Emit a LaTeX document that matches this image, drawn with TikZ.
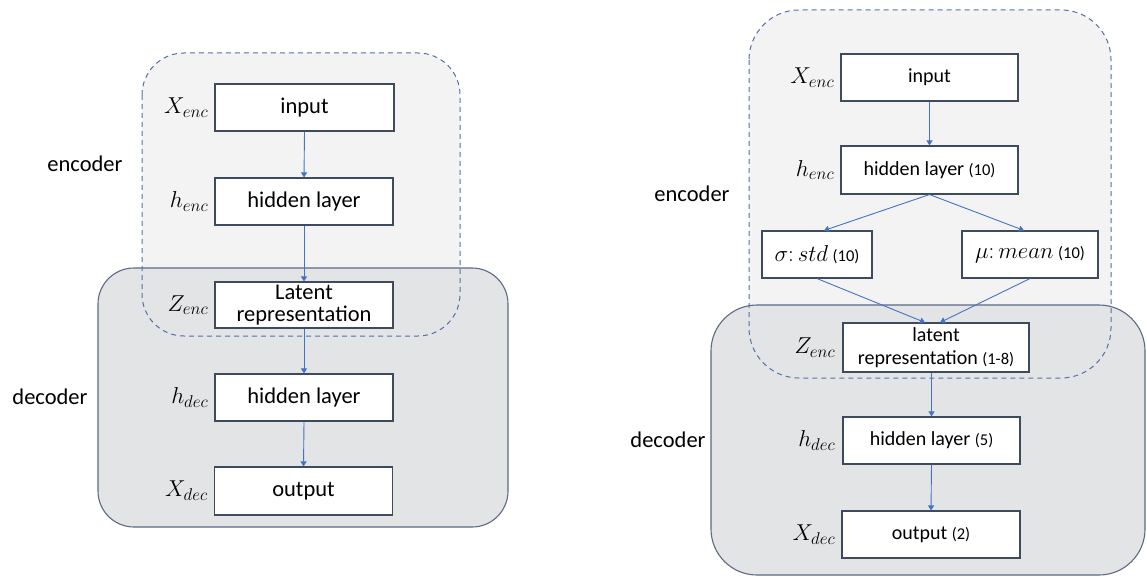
\documentclass[tikz,border=0pt]{standalone}
\usepackage{fix-cm}
\DeclareMathSizes{23}{23}{17}{13}
\usepackage{fontspec}
\setmainfont{Carlito}
\usetikzlibrary{arrows.meta,calc}
\definecolor{encfill}{RGB}{243,243,244}
\definecolor{decfill}{RGB}{227,228,230}
\definecolor{encline}{RGB}{85,112,168}
\definecolor{decline}{RGB}{92,106,132}
\definecolor{boxline}{RGB}{62,74,94}
\definecolor{arrowblue}{RGB}{68,114,196}
\tikzset{
  layerbox/.style={draw=boxline, line width=1.1pt, fill=white, inner sep=0pt, align=center, text=black},
  bigtxt/.style={font=\fontsize{22.5}{24}\selectfont},
  smalltxt/.style={font=\fontsize{20}{22}\selectfont},
  varlabel/.style={anchor=east, inner sep=0pt, font=\fontsize{23}{25}\selectfont},
  sidelabel/.style={inner sep=0pt, font=\fontsize{22.5}{24}\selectfont},
  flow/.style={draw=arrowblue, line width=0.9pt, -{Triangle[length=5pt,width=6pt]}},
  encbg/.style={fill=encfill},
  decbg/.style={fill=decfill, draw=decline, line width=1.1pt},
  encoutline/.style={draw=encline, line width=1pt, dash pattern=on 5pt off 4pt}
}
\newcommand{\sm}[1]{{\fontsize{16.5}{18}\selectfont #1}}
\newcommand{\mth}[1]{{\fontsize{23}{25}\selectfont$#1$}}
\begin{document}
\begin{tikzpicture}[x=1pt,y=-1pt]
\useasboundingbox (0,0) rectangle (1147,577);
% ---------- backgrounds left ----------
\path[encbg, rounded corners=42pt] (142,53) rectangle (460,336);
\path[decbg, rounded corners=36pt] (98,268) rectangle (508,527);
\path[encoutline, rounded corners=42pt] (142,53) rectangle (460,336);
% ---------- backgrounds right ----------
\path[encbg, rounded corners=50pt] (749,10) rectangle (1111,378);
\path[decbg, rounded corners=46pt] (711,305) rectangle (1145,575);
\path[encoutline, rounded corners=50pt] (749,10) rectangle (1111,378);

% ---------- left diagram ----------
\node[layerbox, bigtxt, minimum width=179pt, minimum height=47pt] (inL) at (304.5,107.5) {input};
\node[layerbox, bigtxt, minimum width=178pt, minimum height=47pt] (hidL) at (304,201.5) {hidden layer};
\node[layerbox, font=\fontsize{22.5}{22.5}\selectfont, minimum width=178pt, minimum height=46pt] (latL) at (304,305) {Latent\\[-1pt]representation};
\node[layerbox, bigtxt, minimum width=178pt, minimum height=47pt] (hdecL) at (304,397.5) {hidden layer};
\node[layerbox, bigtxt, minimum width=178pt, minimum height=48pt] (outL) at (303.5,491) {output};

\node[varlabel] (xencL) at ([xshift=-6pt]inL.west) {$X_{enc}$};
\node[varlabel] (hencL) at ([xshift=-6pt]hidL.west) {$h_{enc}$};
\node[varlabel] (zencL) at ([xshift=-6pt]latL.west) {$Z_{enc}$};
\node[varlabel] (hdecLl) at ([xshift=-6pt]hdecL.west) {$h_{dec}$};
\node[varlabel] (xdecL) at ([xshift=-6pt]outL.west) {$X_{dec}$};

\node[sidelabel] (encL) at (85,164) {encoder};
\node[sidelabel] (decL) at (50,397) {decoder};

\draw[flow] (inL.south) -- (hidL.north);
\draw[flow] (hidL.south) -- (latL.north);
\draw[flow] (latL.south) -- (hdecL.north);
\draw[flow] (hdecL.south) -- (outL.north);

% ---------- right diagram ----------
\node[layerbox, smalltxt, minimum width=177pt, minimum height=47pt] (inR) at (929.5,77.5) {input};
\node[layerbox, smalltxt, minimum width=177pt, minimum height=48pt] (hidR) at (929.5,170) {hidden layer \sm{(10)}};
\node[layerbox, smalltxt, minimum width=110pt, minimum height=47pt] (sig) at (817,254.5) {\mth{\sigma{:}\,std} \sm{(10)}};
\node[layerbox, smalltxt, minimum width=136pt, minimum height=47pt] (mu) at (1030,254.5) {\mth{\mu{:}\,mean} \sm{(10)}};
\node[layerbox, font=\fontsize{20}{23}\selectfont, minimum width=186pt, minimum height=49pt] (latR) at (936,347.5) {latent\\representation \sm{(1-8)}};
\node[layerbox, smalltxt, minimum width=177pt, minimum height=47pt] (hdecR) at (931.5,440.5) {hidden layer \sm{(5)}};
\node[layerbox, smalltxt, minimum width=178pt, minimum height=47pt] (outR) at (931,534.5) {output \sm{(2)}};

\node[varlabel] (xencR) at ([xshift=-6pt]inR.west) {$X_{enc}$};
\node[varlabel] (hencR) at ([xshift=-6pt]hidR.west) {$h_{enc}$};
\node[varlabel] (zencR) at ([xshift=-7pt]latR.west) {$Z_{enc}$};
\node[varlabel] (hdecRl) at ([xshift=-7pt]hdecR.west) {$h_{dec}$};
\node[varlabel] (xdecR) at ([xshift=-6pt]outR.west) {$X_{dec}$};

\node[sidelabel] (encR) at (692,194) {encoder};
\node[sidelabel] (decR) at (668,440) {decoder};

\draw[flow] (inR.south) -- (hidR.north);
\draw[flow] (hidR.south) -- ([xshift=7pt]sig.north);
\draw[flow] (hidR.south) -- ([xshift=-6pt]mu.north);
\draw[flow] (sig.south) -- ([xshift=-11pt]latR.north);
\draw[flow] (mu.south) -- ([xshift=4pt]latR.north);
\draw[flow] (latR.south -| hdecR.north) -- (hdecR.north);
\draw[flow] (hdecR.south) -- (outR.north);
\end{tikzpicture}
\end{document}
